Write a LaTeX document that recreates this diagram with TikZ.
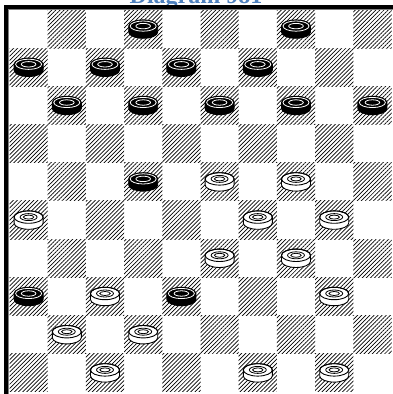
\documentclass[tikz,border=0pt]{standalone}
\usepackage{fontspec}
\newfontfamily\titlefont{Liberation Serif}
\usetikzlibrary{patterns.meta}
\definecolor{titleblue}{HTML}{4F81BD}
\tikzset{
  hatch/.style={pattern={Lines[angle=45,distance=2.9pt,line width=0.7pt]},pattern color=black},
  piecebody/.pic={
    \path[pic actions] (-14.5,3) -- (-14.5,-3) arc[start angle=180,end angle=360,x radius=14.5,y radius=6.2] -- (14.5,3) arc[start angle=0,end angle=180,x radius=14.5,y radius=6.2] -- cycle;
  },
  wpiece/.pic={
    \pic[fill=white,draw=black,line width=0.9pt] {piecebody};
    \draw[line width=0.9pt] (0,3) ellipse[x radius=14.5,y radius=6.2];
    \draw[line width=0.8pt] (0,3) ellipse[x radius=8.5,y radius=3.5];
    \draw[line width=0.8pt] (0,3) ellipse[x radius=5.2,y radius=2];
  },
  bpiece/.pic={
    \pic[fill=black,draw=black,line width=0.9pt] {piecebody};
    \draw[white,line width=0.8pt] (0,3) ellipse[x radius=13,y radius=5.1];
    \draw[white,line width=0.8pt] (0,3) ellipse[x radius=7.3,y radius=2.7];
  }
}
\begin{document}
\begin{tikzpicture}[x=1pt,y=1pt]
\useasboundingbox (0,0) rectangle (392,394);
\fill[white] (0,0) rectangle (392,394);
\node[anchor=base,font=\titlefont\bfseries\fontsize{24}{24}\selectfont,text=titleblue,inner sep=0] (title) at (196,390.5) {Diagram 981};
\def\s{38.2}
\foreach \r in {0,...,9} {
  \foreach \c in {0,...,9} {
    \pgfmathtruncatemacro\odd{mod(\r+\c,2)}
    \ifnum\odd=1
      \fill[hatch] ({9.5+\c*\s},{384-\r*\s}) rectangle ++(\s,-\s);
    \fi
  }
}
\draw[gray,line width=0.9pt] (8.7,-20) -- (8.7,384.4) -- (420,384.4);
\draw[black,line width=4.2pt] (6,-20) -- (6,387) -- (420,387);
\foreach \r/\c in {0/3,0/7,1/0,1/2,1/4,1/6,2/1,2/3,2/5,2/7,2/9,4/3,7/0,7/4} {
  \pic at ({9.5+\s*(\c+0.5)},{384-\s*(\r+0.5)}) {bpiece};
}
\foreach \r/\c in {4/5,4/7,5/0,5/6,5/8,6/5,6/7,7/2,7/8,8/1,8/3,9/2,9/6,9/8} {
  \pic at ({9.5+\s*(\c+0.5)},{384-\s*(\r+0.5)}) {wpiece};
}
\end{tikzpicture}
\end{document}
